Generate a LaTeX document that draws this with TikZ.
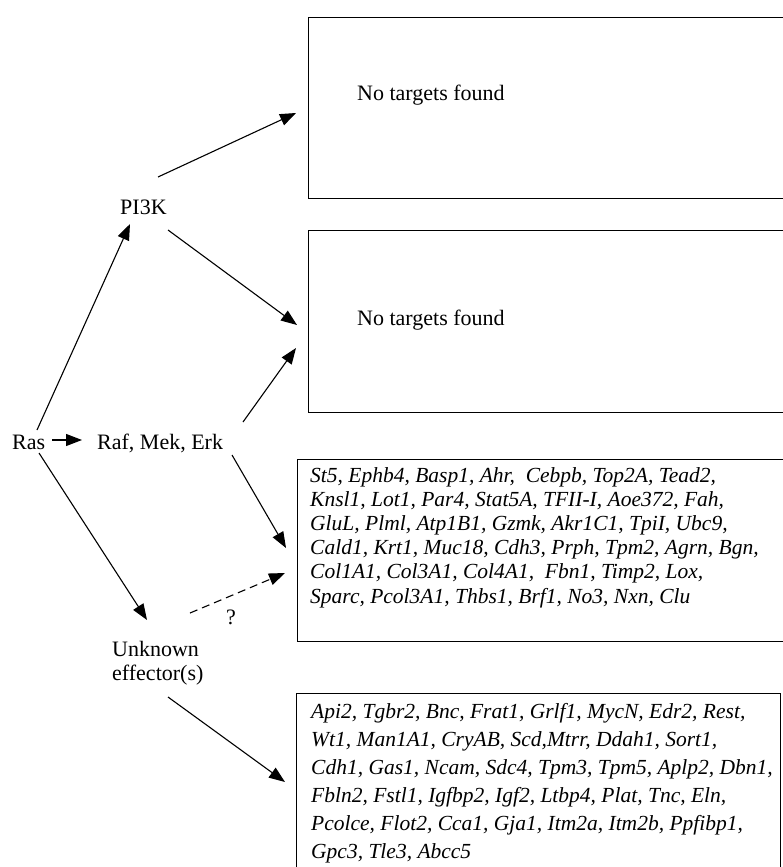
\documentclass[tikz,border=0pt]{standalone}
\usepackage{fontspec}
\setmainfont{Liberation Serif}
\usetikzlibrary{arrows.meta}
\begin{document}
\begin{tikzpicture}[x=1pt,y=-1pt,
  lbl/.style={inner sep=0pt, anchor=base west, font=\fontsize{22}{24}\selectfont},
  genes/.style={inner sep=0pt, anchor=north west, align=left,
    font=\fontsize{21.5}{24.2}\selectfont\itshape},
  targetbox/.style={draw, line width=1.1pt, inner sep=0pt, anchor=north west},
  link/.style={line width=1.1pt, -{Triangle[length=16pt,width=12pt]}},
  guess/.style={link, dash pattern=on 8pt off 5pt}]
\useasboundingbox (0,0) rectangle (783,867);
\clip (0,0) rectangle (783,867);

% target boxes
\node[targetbox, minimum width=490pt, minimum height=181pt] (b1) at (308,17) {};
\node[targetbox, minimum width=490pt, minimum height=182pt] (b2) at (308,230) {};
\node[targetbox, minimum width=500pt, minimum height=182pt] (b3) at (297,459) {};
\node[targetbox, minimum width=484pt, minimum height=200pt] (b4) at (296,693) {};

\node[lbl] (t1) at (357,100) {No targets found};
\node[lbl] (t2) at (357,325) {No targets found};

\node[genes] (g3) at (310,467) {St5, Ephb4, Basp1, Ahr,~ Cebpb, Top2A, Tead2,\\
Knsl1, Lot1, Par4, Stat5A, TFII-I, Aoe372, Fah,\\
GluL, Plml, Atp1B1, Gzmk, Akr1C1, TpiI, Ubc9,\\
Cald1, Krt1, Muc18, Cdh3, Prph, Tpm2, Agrn, Bgn,\\
Col1A1, Col3A1, Col4A1,~ Fbn1, Timp2, Lox,\\
Sparc, Pcol3A1, Thbs1, Brf1, No3, Nxn, Clu};

\node[genes, font=\fontsize{21.5}{28}\selectfont\itshape] (g4) at (311,703)
{Api2, Tgbr2, Bnc, Frat1, Grlf1, MycN, Edr2, Rest,\\
Wt1, Man1A1, CryAB, Scd,Mtrr, Ddah1, Sort1,\\
Cdh1, Gas1, Ncam, Sdc4, Tpm3, Tpm5, Aplp2, Dbn1,\\
Fbln2, Fstl1, Igfbp2, Igf2, Ltbp4, Plat, Tnc, Eln,\\
Pcolce, Flot2, Cca1, Gja1, Itm2a, Itm2b, Ppfibp1,\\
Gpc3, Tle3, Abcc5};

% signalling components
\node[lbl] (ras) at (12,449) {Ras};
\node[lbl] (raf) at (97,449) {Raf, Mek, Erk};
\node[lbl] (pi3k) at (120,214) {PI3K};
\node[lbl, anchor=north west, align=left] (unk) at (112,641) {Unknown\\effector(s)};
\node[lbl] (q) at (226,624) {?};

% connector end points
\coordinate (rasUp) at (37,430);
\coordinate (rasRight) at (52,440);
\coordinate (rasDown) at (39,453);
\coordinate (pikIn) at (130,224);
\coordinate (rafIn) at (82,440);
\coordinate (unkIn) at (147,620);
\coordinate (pikOut1) at (158,177);
\coordinate (pikOut2) at (168,230);
\coordinate (rafOut1) at (243,422);
\coordinate (rafOut2) at (232,455);
\coordinate (unkOut1) at (190,613);
\coordinate (unkOut2) at (168,697);
\coordinate (b1In) at (296,113);
\coordinate (b2InA) at (297,325);
\coordinate (b2InB) at (296,348);
\coordinate (b3InA) at (286,548);
\coordinate (b3InB) at (285,573);
\coordinate (b4In) at (285,782);

\draw[link] (rasUp) -- (pikIn);
\draw[link] (rasRight) -- (rafIn);
\draw[link] (rasDown) -- (unkIn);
\draw[link] (pikOut1) -- (b1In);
\draw[link] (pikOut2) -- (b2InA);
\draw[link] (rafOut1) -- (b2InB);
\draw[link] (rafOut2) -- (b3InA);
\draw[guess] (unkOut1) -- (b3InB);
\draw[link] (unkOut2) -- (b4In);
\end{tikzpicture}
\end{document}
